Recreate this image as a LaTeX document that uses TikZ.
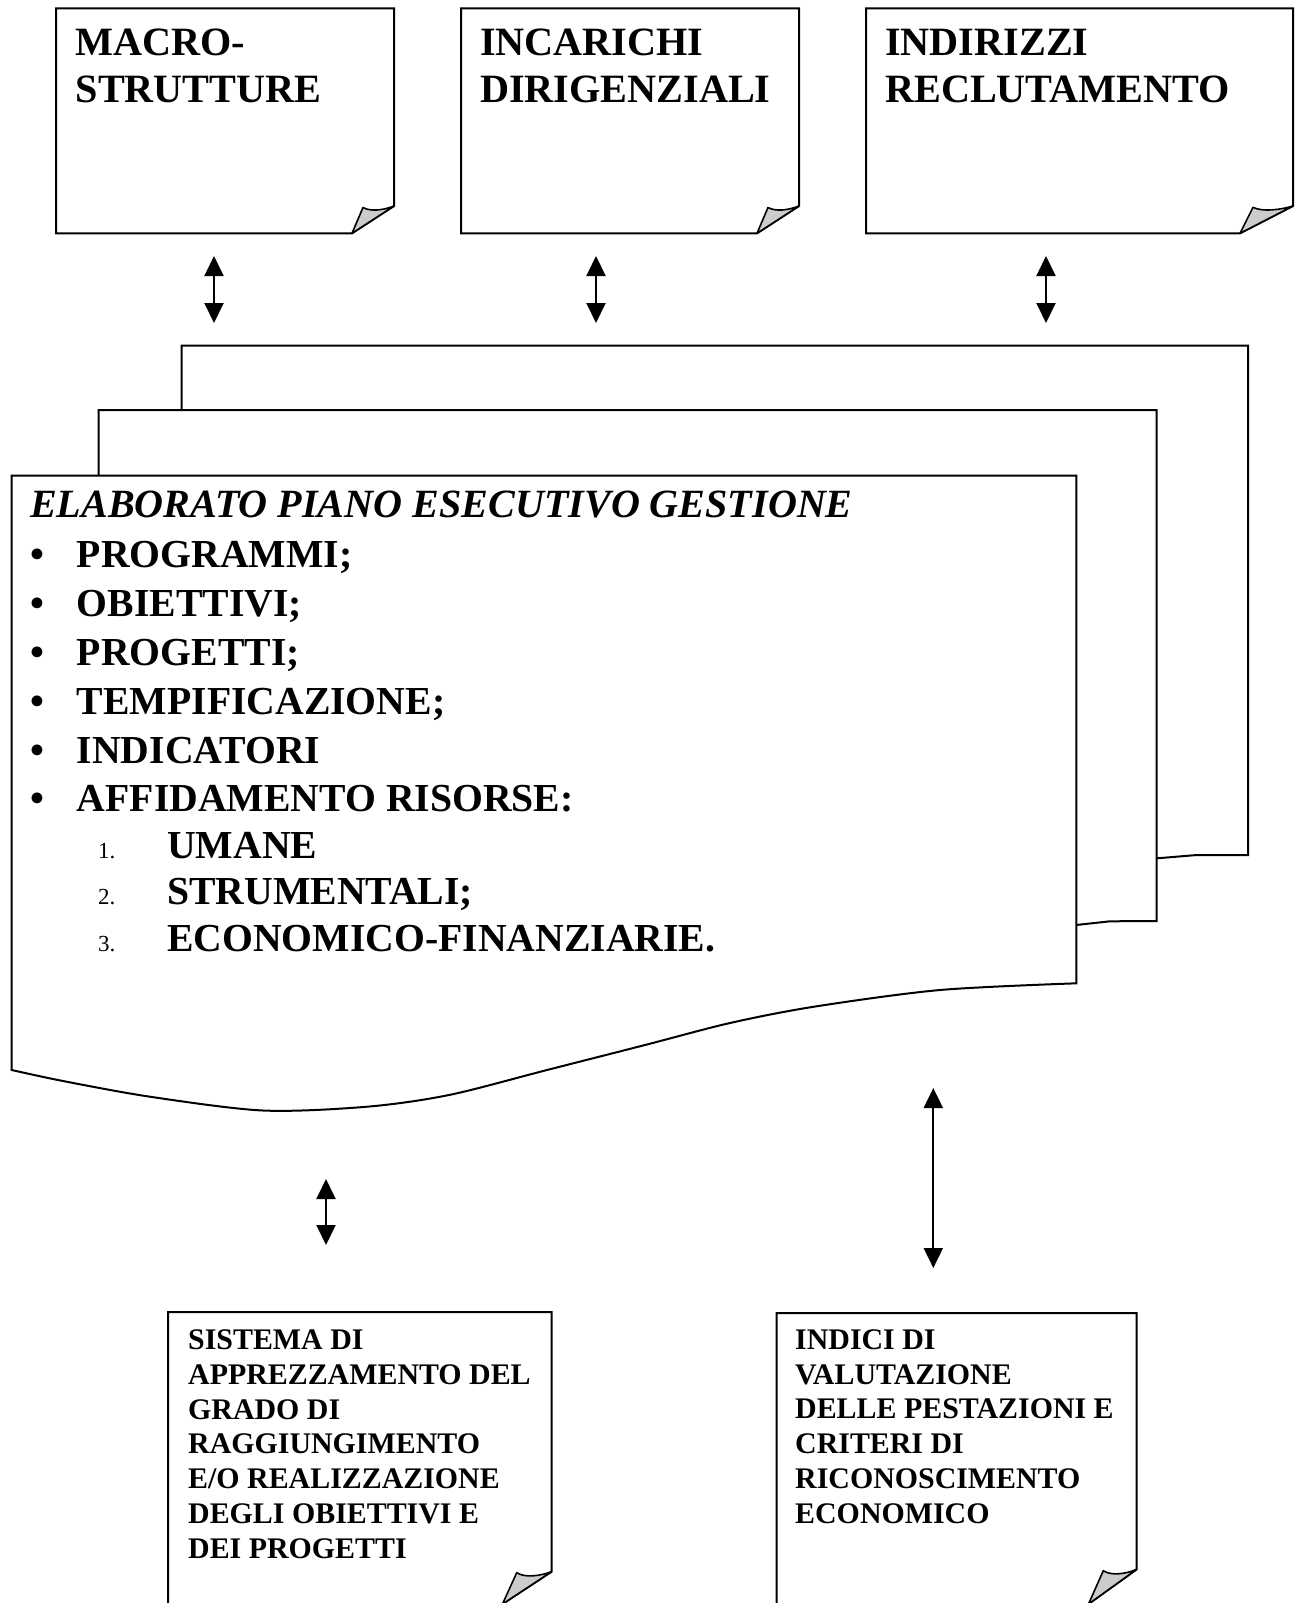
\documentclass[tikz,border=0pt]{standalone}
\usepackage{fontspec}
\setmainfont{Liberation Serif}
\usetikzlibrary{arrows.meta}

\newcommand{\blt}{\makebox[46.7pt][l]{\textbullet}}
\newcommand{\lblnum}[1]{\hspace*{68pt}\makebox[69pt][l]{\fontsize{23}{24}\selectfont\mdseries #1}}

\begin{document}
\begin{tikzpicture}[
    x=1pt, y=-1pt,
    page/.style={
        draw, % outline
        line width=2pt,
        fill=white},
    flap/.style={
        draw,
        line width=1.6pt,
        line join=round,
        fill=black!20},
    bigtext/.style={
        anchor=base west, inner sep=0pt, align=left,
        font=\fontsize{40.2}{47}\selectfont\bfseries},
    smalltext/.style={
        anchor=base west, inner sep=0pt, align=left,
        font=\fontsize{29.9}{34.7}\selectfont\bfseries},
    pegtext/.style={
        anchor=base west, inner sep=0pt, align=left,
        font=\fontsize{39.7}{48.8}\selectfont\bfseries},
    link/.style={
        line width=2pt,
        {Triangle[length=20pt,width=19pt]}-{Triangle[length=20pt,width=19pt]}}
  ]
  \useasboundingbox (0,0) rectangle (1297,1603);

  % top sheets
  \draw[page] (56,8.3) -- (394,8.3) -- (394,206) -- (352,233.3) -- (56,233.3) -- cycle;
  \draw[flap] (352,233.3) -- (363,207.5) .. controls (371,212) and (384,210) .. (394,206) -- cycle;
  \draw[page] (461,8.3) -- (799,8.3) -- (799,206) -- (757,233.3) -- (461,233.3) -- cycle;
  \draw[flap] (757,233.3) -- (768,207.5) .. controls (776,212) and (789,210) .. (799,206) -- cycle;
  \draw[page] (866,8.3) -- (1293,8.3) -- (1293,206) -- (1240,233.3) -- (866,233.3) -- cycle;
  \draw[flap] (1240,233.3) -- (1253,207.3) .. controls (1262,212) and (1280,210) .. (1293,206) -- cycle;

  % (base = last line)
  \node[bigtext] (macro) at (75.5,102) {MACRO-\\STRUTTURE};
  \node[bigtext] (incarichi) at (480,102) {INCARICHI\\DIRIGENZIALI};
  \node[bigtext] (indirizzi) at (885,102) {INDIRIZZI\\RECLUTAMENTO};

  % stacked pages of the PEG
  \draw[page] (181.6,345.7) -- (1248,345.7) -- (1248,855) -- (1197,855) -- (1157,858.3) -- (181.6,858.3) -- cycle;
  \draw[page] (98.7,410) -- (1156.7,410) -- (1156.7,921) -- (1110,921.3) -- (1076,925) -- (98.7,925) -- cycle;
  \draw[page] (11.6,475.7) -- (1076.3,475.7) -- plot[smooth] coordinates {(1076.3,983.3) (940,990) (814,1006.7)
      (730,1023) (645,1045) (547,1070) (449,1095) (367,1106.7) (263,1110.5) (150,1096.7) (63,1081) (11.7,1070)} -- cycle;

  \node[pegtext] (peg) at (30,951.7) {%
    {\fontsize{40.1}{48.8}\selectfont\itshape ELABORATO PIANO ESECUTIVO GESTIONE}\\[1.3pt]
    \blt PROGRAMMI;\\
    \blt OBIETTIVI;\\
    \blt PROGETTI;\\
    \blt TEMPIFICAZIONE;\\
    \blt INDICATORI\\
    \blt AFFIDAMENTO RISORSE:\\[-2pt]
    \lblnum{1.}UMANE\\[-2.5pt]
    \lblnum{2.}STRUMENTALI;\\[-2pt]
    \lblnum{3.}ECONOMICO-FINANZIARIE.};

  % bottom sheets
  \draw[page] (168,1312) -- (551.5,1312) -- (551.5,1571.7) -- (502.5,1604) -- (168,1604) -- cycle;
  \draw[flap] (502.5,1604) -- (516.7,1572.7) .. controls (525,1578) and (540,1576) .. (551.5,1571.7) -- cycle;
  \draw[page] (776.7,1313) -- (1136.7,1313) -- (1136.7,1569.3) -- (1088.5,1604) -- (776.7,1604) -- cycle;
  \draw[flap] (1088.5,1604) -- (1103.3,1570.7) .. controls (1111,1576) and (1126,1574) .. (1136.7,1569.3) -- cycle;

  \node[smalltext] (sistema) at (188,1558) {SISTEMA DI\\APPREZZAMENTO DEL\\GRADO DI\\RAGGIUNGIMENTO\\E/O REALIZZAZIONE\\DEGLI OBIETTIVI E\\DEI PROGETTI};
  \node[smalltext] (indici) at (795,1523) {INDICI DI\\VALUTAZIONE\\DELLE PESTAZIONI E\\CRITERI DI\\RICONOSCIMENTO\\ECONOMICO};

  % double arrows
  \coordinate (macro-up) at (214,256);
  \coordinate (macro-dn) at (214,323);
  \coordinate (incarichi-up) at (596,256);
  \coordinate (incarichi-dn) at (596,323);
  \coordinate (indirizzi-up) at (1046,256);
  \coordinate (indirizzi-dn) at (1046,323);
  \coordinate (sistema-up) at (326,1179);
  \coordinate (sistema-dn) at (326,1245);
  \coordinate (indici-up) at (933.3,1088);
  \coordinate (indici-dn) at (933.3,1268);
  \draw[link] (macro-up) -- (macro-dn);
  \draw[link] (incarichi-up) -- (incarichi-dn);
  \draw[link] (indirizzi-up) -- (indirizzi-dn);
  \draw[link] (sistema-up) -- (sistema-dn);
  \draw[link] (indici-up) -- (indici-dn);
\end{tikzpicture}
\end{document}
